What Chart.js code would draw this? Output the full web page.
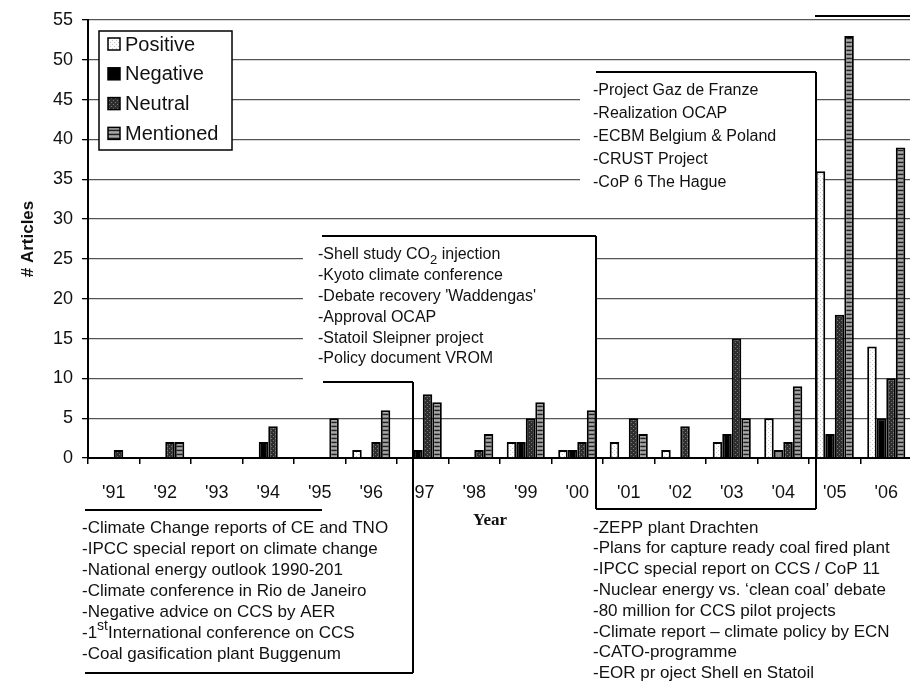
<!DOCTYPE html>
<html>
<head>
<meta charset="utf-8">
<script src="https://cdn.jsdelivr.net/npm/chart.js@4.4.1/dist/chart.umd.min.js"></script>
<style>
  html, body { margin: 0; padding: 0; background: #fff; overflow: hidden; }
  #wrap { width: 916px; height: 685px; }
</style>
</head>
<body>
<div id="wrap"><canvas id="chart" width="916" height="685"></canvas></div>
<script>
// data
const years = ["'91", "'92", "'93", "'94", "'95", "'96", "'97", "'98", "'99", "'00", "'01", "'02", "'03", "'04", "'05", "'06"];
const positive  = [0, 0, 0, 0, 0, 1, 0, 0, 2, 1, 2, 1, 2, 5, 36, 14];
const negative  = [0, 0, 0, 2, 0, 0, 1, 0, 2, 1, 0, 0, 3, 1, 3, 5];
const neutral   = [1, 2, 0, 4, 0, 2, 8, 1, 5, 2, 5, 4, 15, 2, 18, 10];
const mentioned = [0, 2, 0, 0, 5, 6, 7, 3, 7, 6, 3, 0, 5, 9, 53, 39];

const notesTopRight = ['-Project Gaz de Franze', '-Realization OCAP', '-ECBM Belgium & Poland', '-CRUST Project', '-CoP 6 The Hague'];
const notesMiddle = [
    [['-Shell study CO'], ['2', 'sub'], [' injection']],
    [['-Kyoto climate conference']],
    [["-Debate recovery 'Waddengas'"]],
    [['-Approval OCAP']],
    [['-Statoil Sleipner project']],
    [['-Policy document VROM']]
];
const notesBottomLeft = [
    [['-Climate Change reports of CE and TNO']],
    [['-IPCC special report on climate change']],
    [['-National energy outlook 1990-201']],
    [['-Climate conference in Rio de Janeiro']],
    [['-Negative advice on CCS by AER']],
    [['-1'], ['st', 'sup'], ['International conference on CCS']],
    [['-Coal gasification plant Buggenum']]
];
const notesBottomRight = [
    '-ZEPP plant Drachten',
    '-Plans for capture ready coal fired plant',
    '-IPCC special report on CCS / CoP 11',
    '-Nuclear energy vs. \u2018clean coal\u2019 debate',
    '-80 million for CCS pilot projects',
    '-Climate report \u2013 climate policy by ECN',
    '-CATO-programme',
    '-EOR pr oject Shell en Statoil'
];

// fill patterns like the print version
function makePattern(w, h, draw) {
    const c = document.createElement('canvas');
    c.width = w; c.height = h;
    const g = c.getContext('2d');
    draw(g);
    return g.createPattern(c, 'repeat');
}
const patPositive = makePattern(4, 4, g => {
    g.fillStyle = '#fff'; g.fillRect(0, 0, 4, 4);
    g.fillStyle = '#c8c8c8'; g.fillRect(0, 0, 1, 1); g.fillRect(2, 2, 1, 1);
});
const patNeutral = makePattern(4, 4, g => {
    g.fillStyle = '#2e2e2e'; g.fillRect(0, 0, 4, 4);
    g.fillStyle = '#777'; g.fillRect(1, 0, 1, 1); g.fillRect(3, 2, 1, 1);
});
const patMentioned = makePattern(4, 4, g => {
    g.fillStyle = '#a8a8a8'; g.fillRect(0, 0, 4, 1);
    g.fillStyle = '#7c7c7c'; g.fillRect(0, 1, 4, 1);
    g.fillStyle = '#222';    g.fillRect(0, 2, 4, 1);
    g.fillStyle = '#8e8e8e'; g.fillRect(0, 3, 4, 1);
});

const FONT = "'Liberation Sans', Arial, sans-serif";

function drawRich(ctx, x, y, parts, size) {
    let cx = x;
    parts.forEach(p => {
        const kind = p[1];
        if (kind === 'sub' || kind === 'sup') {
            ctx.font = (size - 3) + 'px ' + FONT;
            ctx.fillText(p[0], cx, y + (kind === 'sub' ? 5 : -7));
        } else {
            ctx.font = size + 'px ' + FONT;
            ctx.fillText(p[0], cx, y);
        }
        cx += ctx.measureText(p[0]).width;
    });
}

function line(ctx, x1, y1, x2, y2) {
    ctx.beginPath(); ctx.moveTo(x1, y1); ctx.lineTo(x2, y2); ctx.stroke();
}

const notesPlugin = {
    id: 'notes',
    afterDraw(chart) {
        const ctx = chart.ctx;
        ctx.save();
        // white panels hide the grid behind the notes
        ctx.fillStyle = '#fff';
        ctx.fillRect(580, 73, 235, 139);
        ctx.fillRect(303, 224, 292, 157);

        ctx.strokeStyle = '#000';
        ctx.lineWidth = 2;
        line(ctx, 596, 72, 816, 72);
        line(ctx, 816, 72, 816, 509);
        line(ctx, 596, 509, 816, 509);
        line(ctx, 322, 236, 596, 236);
        line(ctx, 596, 236, 596, 509);
        line(ctx, 323, 382, 413, 382);
        line(ctx, 413, 382, 413, 673);
        line(ctx, 85, 673, 413, 673);
        line(ctx, 85, 510, 322, 510);
        line(ctx, 815, 16, 916, 16);

        ctx.fillStyle = '#111';
        ctx.textAlign = 'left';
        ctx.textBaseline = 'middle';
        ctx.font = '16px ' + FONT;
        notesTopRight.forEach((t, i) => ctx.fillText(t, 593, 91 + i * 22.8));
        notesMiddle.forEach((parts, i) => drawRich(ctx, 318, 255 + i * 20.8, parts, 16));
        notesBottomLeft.forEach((parts, i) => drawRich(ctx, 82, 528 + i * 21, parts, 17));
        ctx.font = '17px ' + FONT;
        notesBottomRight.forEach((t, i) => ctx.fillText(t, 593, 528 + i * 20.8));

        // x axis title
        ctx.textAlign = 'center';
        ctx.font = "bold 17px 'Liberation Serif', 'Times New Roman', serif";
        ctx.fillText('Year', 490, 521);

        // legend box
        ctx.fillStyle = '#fff';
        ctx.fillRect(99, 31, 133, 119);
        ctx.lineWidth = 1.5;
        ctx.strokeRect(99, 31, 133, 119);
        chart.data.datasets.forEach((ds, i) => {
            const y = 44 + i * 29.8;
            ctx.fillStyle = ds.legendFill;
            ctx.fillRect(108, y - 6, 12, 12);
            ctx.strokeRect(108, y - 6, 12, 12);
            ctx.fillStyle = '#111';
            ctx.textAlign = 'left';
            ctx.font = '20px ' + FONT;
            ctx.fillText(ds.label, 125, y + 1);
        });
        ctx.restore();
    }
};

new Chart(document.getElementById('chart'), {
    type: 'bar',
    data: {
        labels: years,
        datasets: [
            { label: 'Positive', data: positive, backgroundColor: patPositive, legendFill: patPositive },
            { label: 'Negative', data: negative, legendFill: '#000',
              backgroundColor: c => (c.dataIndex === 13 ? '#8a8a8a' : '#000') },
            { label: 'Neutral', data: neutral, backgroundColor: patNeutral, legendFill: patNeutral },
            { label: 'Mentioned', data: mentioned, backgroundColor: patMentioned, legendFill: patMentioned }
        ]
    },
    options: {
        responsive: false,
        animation: false,
        devicePixelRatio: 1,
        layout: { padding: { top: 20, right: 0, bottom: 0, left: 0 } },
        datasets: {
            bar: {
                categoryPercentage: 0.74,
                barPercentage: 1.0,
                borderColor: '#000',
                borderWidth: 2,
                borderSkipped: 'start'
            }
        },
        plugins: {
            legend: { display: false },
            tooltip: { enabled: false }
        },
        scales: {
            x: {
                offset: true,
                afterFit: s => { s.height = 227; },
                grid: {
                    display: true,
                    drawOnChartArea: false,
                    drawTicks: true,
                    tickLength: 6,
                    color: '#000',
                    lineWidth: 1.5,
                    offset: true
                },
                border: { color: '#000', width: 2 },
                ticks: {
                    color: '#111',
                    padding: 18,
                    maxRotation: 0,
                    autoSkip: false,
                    font: { family: FONT, size: 18 }
                }
            },
            y: {
                min: 0,
                max: 55,
                afterFit: s => { s.width = 88; },
                grid: {
                    color: '#555',
                    lineWidth: 1.3,
                    tickColor: '#000',
                    tickLength: 6
                },
                border: { color: '#000', width: 2 },
                ticks: {
                    stepSize: 5,
                    color: '#111',
                    padding: 9,
                    font: { family: FONT, size: 18 }
                },
                title: {
                    display: true,
                    text: '# Articles',
                    color: '#111',
                    padding: { top: 18, bottom: 0 },
                    font: { family: FONT, size: 17, weight: 'bold' }
                }
            }
        }
    },
    plugins: [notesPlugin]
});
</script>
</body>
</html>
